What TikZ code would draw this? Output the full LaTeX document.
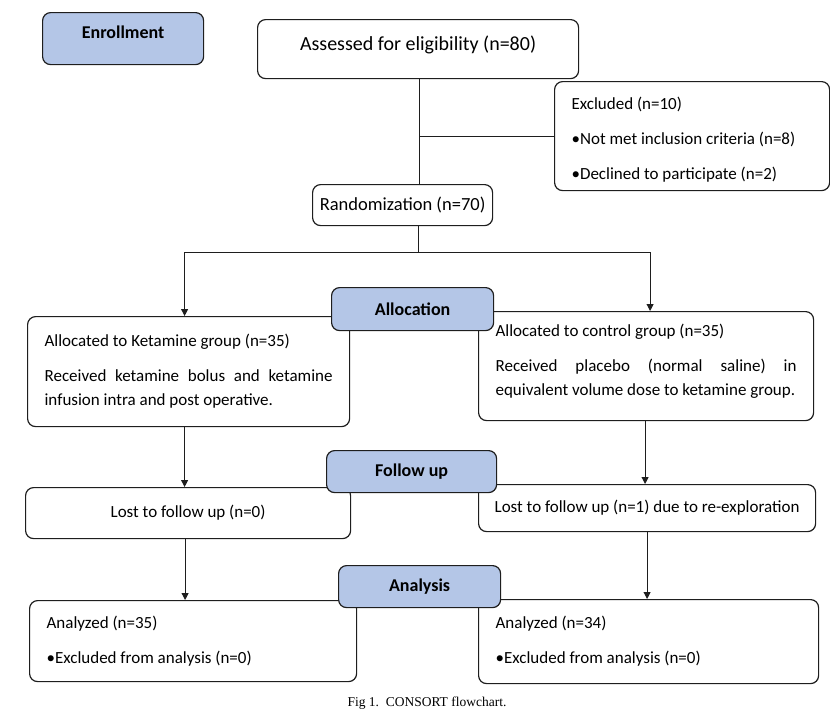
\documentclass[tikz,border=0pt]{standalone}
\usepackage{fontspec}
\setmainfont{Carlito}
\newfontfamily\capfont{Liberation Serif}
\usepackage{xcolor}
\usetikzlibrary{arrows.meta, positioning}
\definecolor{phase}{RGB}{180,198,231}
\definecolor{edge}{RGB}{30,30,30}
\tikzset{
>={Triangle[length=7pt,width=7pt]}, % small filled arrow heads
box/.style={draw=edge, line width=1.2pt, rounded corners=8pt, fill=white,
  font=\fontsize{17}{24}\selectfont, inner ysep=0pt}, % every white box
textbox/.style={box, anchor=north west, inner xsep=17pt, align=justify}, % boxes with a paragraph
phasebox/.style={box, fill=phase, anchor=north west, font=\fontsize{18}{20}\selectfont\bfseries}, % blue headings
link/.style={draw=edge, line width=1pt}, % connectors
}

\begin{document}
\begin{tikzpicture}[x=1pt, y=-1pt]
    \useasboundingbox (0,0) rectangle (830,720);

    % screening
    \node[box, anchor=north west, minimum width=321pt, minimum height=59pt, text depth=12pt, font=\fontsize{20}{24}\selectfont] (assess) at (257,19) {Assessed for eligibility (n=80)};
    \node[textbox, text width=241pt, minimum width=275pt, minimum height=109pt] (excl) at (554,81)
        {\rule{0pt}{19pt}Excluded (n=10)\\[11pt]\textbullet Not met inclusion criteria (n=8)\\[11pt]\textbullet Declined to participate (n=2)};
    \node[box, anchor=north west, minimum width=180pt, minimum height=41pt, font=\fontsize{18.5}{24}\selectfont] (rand) at (312,184) {Randomization (n=70)};
    \coordinate (split) at (418,252);

    % allocation
    \node[textbox, text width=288pt, minimum height=110pt] (keta) at (27,316)
        {Allocated to Ketamine group (n=35)\\[11pt]Received ketamine bolus and ketamine\linebreak infusion intra and post operative.};
    \node[textbox, text width=301pt, minimum height=109pt] (ctrl) at (478,311)
        {Allocated to control group (n=35)\\[11pt]Received placebo (normal saline) in\linebreak equivalent volume dose to ketamine group.\rule[-12pt]{0pt}{1pt}};

    % follow up
    \node[box, anchor=north west, minimum width=325pt, minimum height=51pt] (lost0) at (25,487) {Lost to follow up (n=0)};
    \node[box, anchor=north west, minimum width=337pt, minimum height=47pt] (lost1) at (478,484) {Lost to follow up (n=1) due to re-exploration};

    % analysis
    \node[textbox, text width=293pt, minimum height=81pt] (ana0) at (29,600)
        {Analyzed (n=35)\\[11pt]\textbullet Excluded from analysis (n=0)};
    \node[textbox, text width=306pt, minimum height=84pt] (ana1) at (478,599)
        {Analyzed (n=34)\\[11pt]\textbullet Excluded from analysis (n=0)};

    % phase headings
    \node[phasebox, minimum width=161pt, minimum height=52pt, text depth=12pt] (enroll) at (42,12) {Enrollment};
    \node[phasebox, minimum width=162pt, minimum height=43pt] (alloc) at (331,287) {Allocation};
    \node[phasebox, minimum width=170pt, minimum height=42pt] (follow) at (326,450) {Follow up};
    \node[phasebox, minimum width=162pt, minimum height=42pt] (analysis) at (338,565) {Analysis};

    \node[font=\capfont\fontsize{13.5}{16}\selectfont] (caption) at (427,703) {Fig 1.\ \ CONSORT flowchart.};

    \draw[link] ([xshift=1pt]assess.south) -- ([xshift=1pt]assess.south |- rand.north);
    \draw[link] ([xshift=1pt]assess.south |- excl.west) -- (excl.west);
    \draw[link] (rand.south -| split) -- (split);
    \draw[link, ->] (split) -| ([xshift=-4pt]keta.north);
    \draw[link, ->] (split) -| ([xshift=4pt]ctrl.north);
    \draw[link, ->] ([xshift=-4pt]keta.south) -- ([xshift=-4pt]keta.south |- lost0.north);
    \draw[link, ->] ([xshift=-1pt]ctrl.south) -- ([xshift=-1pt]ctrl.south |- lost1.north);
    \draw[link, ->] ([xshift=-3pt]lost0.south) -- ([xshift=-3pt]lost0.south |- ana0.north);
    \draw[link, ->] (lost1.south) -- (lost1.south |- ana1.north);
\end{tikzpicture}
\end{document}
